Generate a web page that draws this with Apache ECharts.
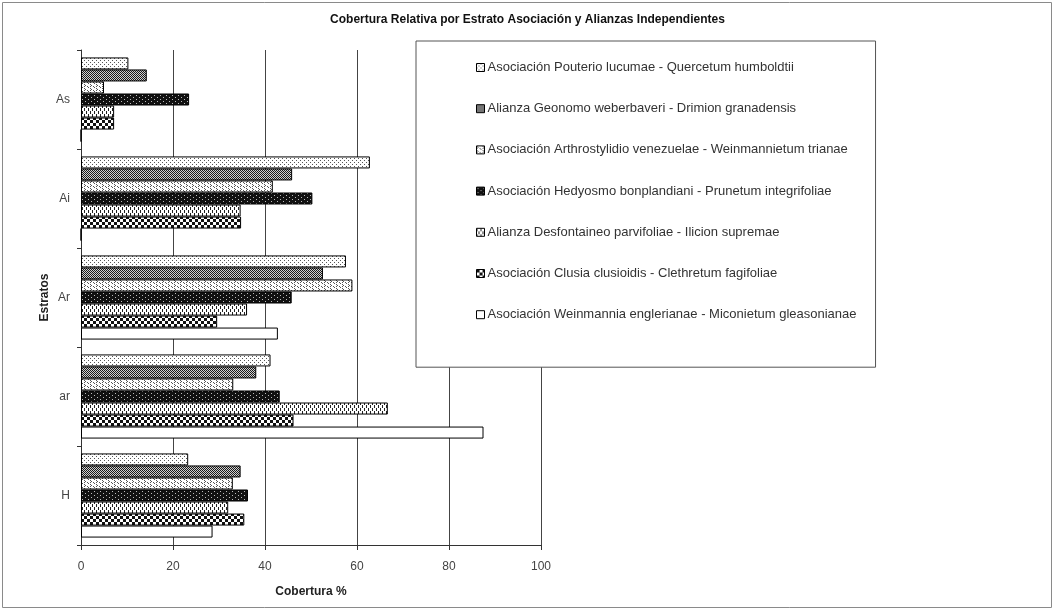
<!DOCTYPE html>
<html>
<head>
<meta charset="utf-8">
<script src="https://cdn.jsdelivr.net/npm/echarts@6/dist/echarts.min.js"></script>
<style>
  html, body { margin: 0; padding: 0; background: #fff; }
  #chart { width: 1055px; height: 613px; }
</style>
</head>
<body>
<div id="chart"></div>
<script>
// Strata (top to bottom)
const categories = ['As', 'Ai', 'Ar', 'ar', 'H'];

// Series names, in legend order (top bar of each group first)
const seriesNames = [
  'Asociación Pouterio lucumae - Quercetum humboldtii',
  'Alianza Geonomo weberbaveri - Drimion granadensis',
  'Asociación Arthrostylidio venezuelae - Weinmannietum trianae',
  'Asociación Hedyosmo bonplandiani - Prunetum integrifoliae',
  'Alianza Desfontaineo parvifoliae - Ilicion supremae',
  'Asociación Clusia clusioidis - Clethretum fagifoliae',
  'Asociación Weinmannia englerianae - Miconietum gleasonianae'
];

// Relative cover (%) per stratum: As, Ai, Ar, ar, H
const pouterio       = [10.3, 62.8, 57.6, 41.2, 23.3];
const geonomo        = [14.3, 45.9, 52.6, 38.1, 34.7];
const arthrostylidio = [5.0, 41.7, 59.0, 33.1, 33.0];
const hedyosmo       = [23.5, 50.3, 45.8, 43.2, 36.3];
const desfontaineo   = [7.2, 34.7, 36.1, 66.7, 32.0];
const clusia         = [7.2, 34.8, 29.6, 46.2, 35.5];
const weinmannia     = [0, 0, 42.8, 87.5, 28.6];

const xTicks = [0, 20, 40, 60, 80, 100];

// Small repeating fill tiles
function tile(w, h, bg, fg, pixels) {
  const c = document.createElement('canvas');
  c.width = w; c.height = h;
  const ctx = c.getContext('2d');
  ctx.fillStyle = bg; ctx.fillRect(0, 0, w, h);
  ctx.fillStyle = fg;
  pixels.forEach(p => ctx.fillRect(p[0], p[1], p[2] || 1, p[3] || 1));
  return { image: c, repeat: 'repeat' };
}

const fills = [
  tile(4, 4, '#ffffff', '#555555', [[0, 0], [2, 2]]),
  tile(2, 2, '#d0d0d0', '#1a1a1a', [[0, 0], [1, 1]]),
  tile(6, 4, '#ffffff', '#555555', [[0, 0], [1, 1], [0, 2], [3, 2], [4, 3]]),
  tile(6, 4, '#111111', '#bbbbbb', [[1, 1], [4, 3]]),
  tile(4, 6, '#ffffff', '#222222', [[0, 0, 1, 3], [2, 3, 1, 3]]),
  tile(6, 6, '#ffffff', '#111111', [[0, 0, 3, 3], [3, 3, 3, 3]]),
  '#ffffff'
];

const values = [pouterio, geonomo, arthrostylidio, hedyosmo, desfontaineo, clusia, weinmannia];

const chart = echarts.init(document.getElementById('chart'), null, { renderer: 'canvas' });

const series = seriesNames.map((name, i) => ({
  name: name,
  type: 'bar',
  data: values[i],
  barGap: '0%',
  barCategoryGap: '15%',
  itemStyle: { color: fills[i], borderColor: '#000', borderWidth: 1 },
  emphasis: { disabled: true },
  animation: false
}));

chart.setOption({
  animation: false,
  backgroundColor: '#ffffff',
  title: {
    text: 'Cobertura Relativa por Estrato Asociación y Alianzas Independientes',
    left: 'center',
    top: 9,
    textStyle: {
      fontFamily: '"Liberation Sans Narrow", "Arial Narrow", "Liberation Sans", sans-serif',
      fontSize: 12,
      fontWeight: 'bold',
      color: '#111'
    }
  },
  graphic: [{
    type: 'rect',
    shape: { x: 2.5, y: 2.5, width: 1049, height: 605 },
    style: { fill: null, stroke: '#8a8a8a', lineWidth: 1 },
    silent: true,
    z: -1
  }],
  legend: {
    data: seriesNames,
    orient: 'vertical',
    left: 416,
    top: 41,
    padding: [20, 19, 46, 60],
    itemGap: 28.2,
    itemWidth: 8,
    itemHeight: 8,
    backgroundColor: '#ffffff',
    borderColor: '#555',
    borderWidth: 1,
    borderRadius: 0,
    icon: 'rect',
    itemStyle: { borderColor: '#000', borderWidth: 1 },
    textStyle: {
      fontFamily: '"Liberation Sans", Arial, sans-serif',
      fontSize: 13,
      color: '#333',
      padding: [0, 0, 0, -2]
    },
    selectedMode: false
  },
  grid: { left: 81, right: 514, top: 50, bottom: 68, containLabel: false },
  xAxis: {
    type: 'value',
    min: xTicks[0],
    max: xTicks[xTicks.length - 1],
    interval: 20,
    name: 'Cobertura %',
    nameLocation: 'middle',
    nameGap: 41,
    nameTextStyle: {
      fontFamily: '"Liberation Sans", Arial, sans-serif',
      fontSize: 12, fontWeight: 'bold', color: '#222'
    },
    axisLine: { show: true, lineStyle: { color: '#333', width: 1 } },
    axisTick: { show: true, length: 5, inside: false, lineStyle: { color: '#333' } },
    axisLabel: {
      margin: 16,
      fontFamily: '"Liberation Sans", Arial, sans-serif',
      fontSize: 12, color: '#444'
    },
    splitLine: { show: true, lineStyle: { color: '#444', width: 1 } }
  },
  yAxis: {
    type: 'category',
    data: categories,
    inverse: true,
    name: 'Estratos',
    nameLocation: 'middle',
    nameGap: 30,
    nameRotate: 90,
    nameTextStyle: {
      fontFamily: '"Liberation Sans", Arial, sans-serif',
      fontSize: 12, fontWeight: 'bold', color: '#222'
    },
    axisLine: { show: true, lineStyle: { color: '#333', width: 1 } },
    axisTick: { show: true, length: 4, inside: false, lineStyle: { color: '#333' } },
    axisLabel: {
      margin: 11,
      fontFamily: '"Liberation Sans", Arial, sans-serif',
      fontSize: 12, color: '#444'
    },
    splitLine: { show: false }
  },
  series: series
});
</script>
</body>
</html>
